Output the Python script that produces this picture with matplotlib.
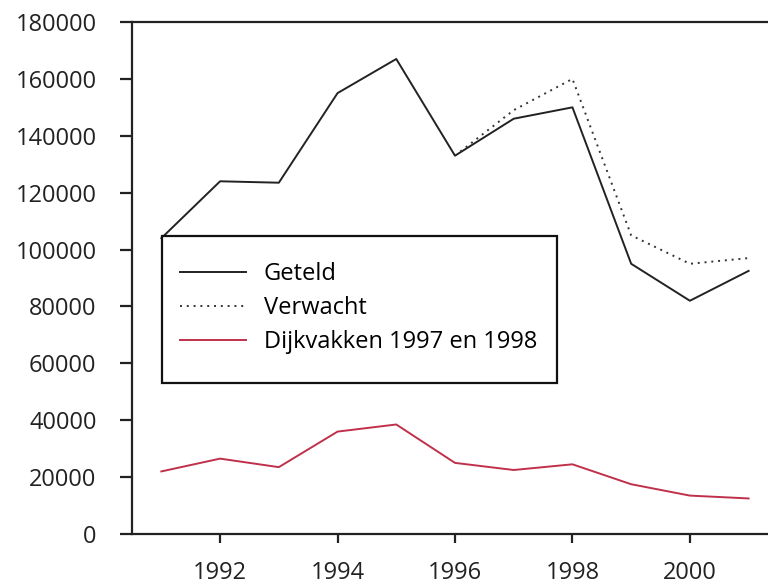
import matplotlib
matplotlib.use("Agg")
import matplotlib.pyplot as plt
from matplotlib.patches import Rectangle

plt.rcParams['font.family'] = ['Open Sans', 'DejaVu Sans']

years = [1991, 1992, 1993, 1994, 1995, 1996, 1997, 1998, 1999, 2000, 2001]
geteld = [104000, 124000, 123500, 155000, 167000, 133000, 146000, 150000, 95000, 82000, 92500]
verwacht_years = [1996, 1997, 1998, 1999, 2000, 2001]
verwacht = [133000, 149000, 160000, 105000, 95000, 97000]
dijkvakken = [22000, 26500, 23500, 36000, 38500, 25000, 22500, 24500, 17500, 13500, 12500]

fig = plt.figure(figsize=(7.68, 5.87), dpi=100)
ax = fig.add_axes([132 / 768, 1 - 534 / 587, 636 / 768, 512 / 587])

ax.plot(years, geteld, color='#222222', lw=1.4, label='Geteld')
ax.plot(verwacht_years, verwacht, color='#333333', lw=1.4, ls=(0, (1, 2.5)), label='Verwacht')
ax.plot(years, dijkvakken, color='#c0304a', lw=1.4, label='Dijkvakken 1997 en 1998')

ax.set_xlim(1990.5, 2001.33)
ax.set_ylim(0, 180000)
ax.set_xticks([1992, 1994, 1996, 1998, 2000])
ax.set_yticks(range(0, 180001, 20000))

ax.spines['right'].set_visible(False)
for s in ['left', 'top', 'bottom']:
    ax.spines[s].set_linewidth(1.6)
    ax.spines[s].set_color('#222222')

ax.tick_params(axis='y', length=8.5, width=1.6, pad=17, labelsize=17, colors='#222222')
ax.tick_params(axis='x', length=6.5, width=1.6, pad=13, labelsize=17, colors='#222222')

# legend box drawn separately so the padding can differ per side
box = Rectangle((0.047, 0.295), 0.621, 0.287, transform=ax.transAxes,
                facecolor='white', edgecolor='#111111', lw=1.6, zorder=4)
ax.add_patch(box)
leg = ax.legend(loc='upper left', bbox_to_anchor=(0.0755, 0.531), frameon=False,
                fontsize=17, handlelength=2.8, handletextpad=0.75, labelspacing=0.42,
                borderpad=0, borderaxespad=0)
leg.set_zorder(5)

fig.savefig('out.png', dpi=100)
